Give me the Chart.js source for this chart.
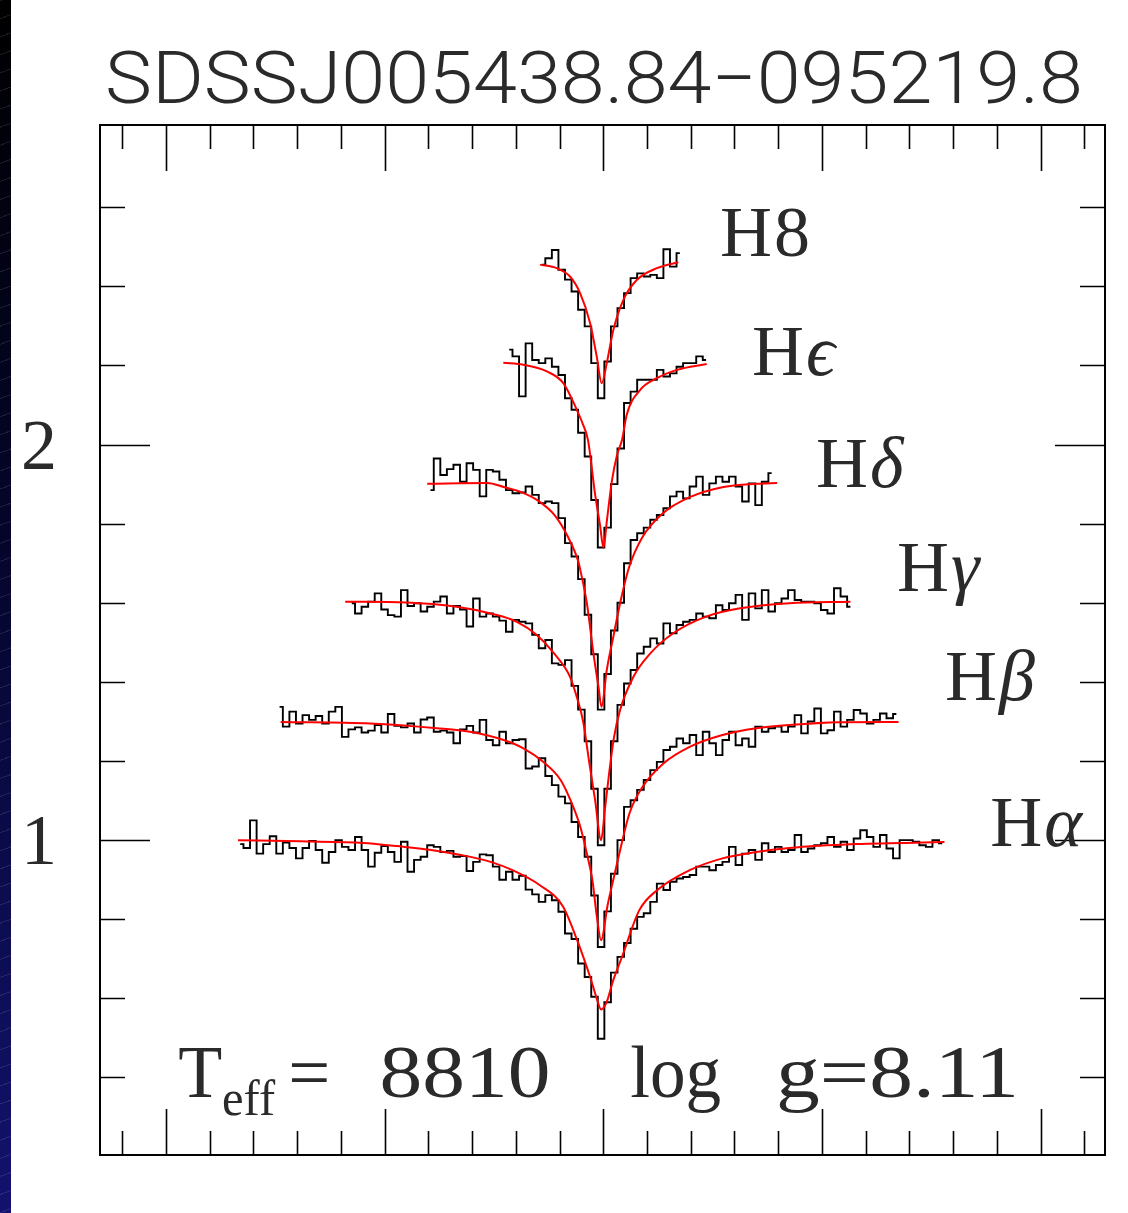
<!DOCTYPE html>
<html>
<head>
<meta charset="utf-8">
<title>SDSSJ005438.84-095219.8 Balmer fit</title>
<script src="https://cdn.jsdelivr.net/npm/chart.js@4.4.1/dist/chart.umd.min.js"></script>
<style>
  html, body { margin: 0; padding: 0; background: #fff; }
  #wrap { position: relative; width: 1128px; height: 1213px; overflow: hidden; background: #fff; }
  #spec { position: absolute; left: 0; top: 0; }
  #edge {
    position: absolute; left: 0; top: 0; width: 11px; height: 1213px;
    background:
      repeating-linear-gradient(160deg, rgba(255,255,255,0.10) 0 1px, transparent 1px 17px),
      linear-gradient(to bottom, #000 0%, #05052c 45%, #12126e 100%);
  }
</style>
</head>
<body>
<div id="wrap">
  <canvas id="spec" width="1128" height="1213"></canvas>
  <div id="edge"></div>
</div>
<script>
// wavelength offset from line centre (A), first bin of each observed spectrum, 3 A bins
const binWidth = 3;
const haStart = -166, hbStart = -148, hgStart = -115, hdStart = -79, heStart = -43, h8Start = -28;

// observed fluxes (normalised, each line shifted up by 0.3)
const haFlux = [
  0.99, 0.98, 1.05, 0.966, 0.99, 1.01, 0.966, 0.994, 0.98, 0.954,
  0.98, 0.998, 0.975, 0.943, 0.97, 1.0, 0.983, 0.975, 1.008, 0.975,
  0.933, 0.968, 0.985, 0.97, 0.945, 0.996, 0.92, 0.95, 0.958, 0.987,
  0.983, 0.97, 0.973, 0.958, 0.96, 0.922, 0.945, 0.964, 0.962, 0.933,
  0.9, 0.92, 0.9, 0.91, 0.875, 0.863, 0.844, 0.861, 0.848, 0.819,
  0.764, 0.75, 0.688, 0.654, 0.604, 0.498,
  0.59, 0.665, 0.705, 0.74,
  0.776, 0.806, 0.815, 0.844, 0.89, 0.874, 0.895, 0.903, 0.907, 0.912,
  0.933, 0.933, 0.924, 0.937, 0.945, 0.983, 0.937, 0.966, 0.975, 0.95,
  0.992, 0.97, 0.983, 0.97, 0.975, 1.013, 0.97, 0.979, 0.987, 0.992,
  1.008, 0.983, 0.996, 0.975, 1.004, 1.025, 1.008, 0.983, 1.013, 0.979,
  0.954, 1.0, 1.0, 0.996, 0.987, 0.983, 1.0, 0.992
];
const hbFlux = [
  1.337, 1.287, 1.325, 1.295, 1.316, 1.304, 1.314, 1.295, 1.325, 1.337,
  1.261, 1.28, 1.285, 1.272, 1.277, 1.291, 1.272, 1.319, 1.289, 1.285,
  1.295, 1.272, 1.305, 1.31, 1.274, 1.277, 1.272, 1.245, 1.28, 1.289,
  1.272, 1.304, 1.253, 1.24, 1.274, 1.245, 1.253, 1.255, 1.181, 1.186,
  1.207, 1.162, 1.139, 1.11, 1.093, 1.046, 1.008, 0.958, 0.86, 0.73,
  0.82, 0.915, 1.0, 1.084, 1.101, 1.127, 1.152, 1.177, 1.198, 1.228,
  1.236, 1.257, 1.245, 1.266, 1.215, 1.274, 1.245, 1.215, 1.253, 1.274,
  1.24, 1.257, 1.236, 1.287, 1.274, 1.283, 1.287, 1.274, 1.287, 1.316,
  1.27, 1.3, 1.333, 1.27, 1.278, 1.325, 1.287, 1.304, 1.329, 1.32,
  1.295, 1.304, 1.32, 1.308, 1.319
];
const hgFlux = [
  1.599, 1.573, 1.59, 1.603, 1.624, 1.583, 1.569, 1.565, 1.632, 1.592,
  1.599, 1.578, 1.59, 1.603, 1.616, 1.573, 1.592, 1.583, 1.54, 1.611,
  1.565, 1.573, 1.565, 1.555, 1.527, 1.557, 1.552, 1.548, 1.519, 1.485,
  1.506, 1.447, 1.443, 1.455, 1.39, 1.33, 1.25, 1.13,
  0.987,
  1.13, 1.25, 1.342, 1.396, 1.43, 1.472, 1.489, 1.51, 1.497, 1.548, 1.523,
  1.544, 1.552, 1.557, 1.573, 1.565, 1.561, 1.594, 1.582, 1.599, 1.62,
  1.557, 1.624, 1.586, 1.632, 1.578, 1.599, 1.611, 1.632, 1.607, 1.603,
  1.603, 1.599, 1.582, 1.573, 1.637, 1.616, 1.59
];
const hdFlux = [
  1.885, 1.965, 1.923, 1.938, 1.949, 1.906, 1.953, 1.936, 1.869, 1.936,
  1.932, 1.911, 1.885, 1.877, 1.879, 1.894, 1.873, 1.852, 1.856, 1.852,
  1.814, 1.751, 1.717, 1.66, 1.57, 1.47,
  1.33,
  1.42, 1.53, 1.6,
  1.70, 1.759, 1.776, 1.79, 1.81, 1.822, 1.839, 1.869, 1.881, 1.864,
  1.894, 1.919, 1.873, 1.902, 1.919, 1.906, 1.919, 1.894, 1.856, 1.902,
  1.847, 1.906, 1.928
];
const heFlux = [
  2.24, 2.223, 2.122, 2.256, 2.214, 2.206, 2.218, 2.197, 2.176, 2.117, 2.088,
  2.03, 1.97, 1.86, 1.74, 1.79, 1.9, 1.99,
  2.105, 2.134, 2.164, 2.164, 2.164, 2.189, 2.172, 2.18, 2.197, 2.206, 2.206, 2.223, 2.214
];
const h8Flux = [
  2.455, 2.471, 2.492, 2.442, 2.417, 2.387, 2.341, 2.299, 2.206, 2.117, 2.21,
  2.299, 2.345, 2.383, 2.421, 2.433, 2.425, 2.429, 2.421, 2.494, 2.45, 2.484
];

// model profiles (red)
const haModelX = [-167, -138.5, -109.5, -94.5, -79.5, -64.5, -51.5, -41.5, -29, -18.5, -12, -6, -3, -1, 1.5, 4.5, 8.5, 16.5, 24.5, 39.5, 54.5, 70, 85, 115.5, 156];
const haModelY = [1.0, 0.997, 0.993, 0.985, 0.976, 0.962, 0.945, 0.924, 0.886, 0.833, 0.748, 0.654, 0.6, 0.572, 0.59, 0.645, 0.704, 0.823, 0.873, 0.924, 0.954, 0.97, 0.98, 0.99, 0.995];
const hbModelX = [-147.5, -106.5, -76, -61, -45.5, -36.5, -27.5, -19.5, -15, -10.5, -7.5, -5, -3, -1, 2, 4, 7, 12, 18, 27.5, 39.5, 54.5, 70, 85, 108, 135];
const hbModelY = [1.299, 1.295, 1.283, 1.274, 1.253, 1.232, 1.198, 1.152, 1.101, 1.034, 0.966, 0.9, 0.81, 0.747, 0.836, 0.886, 0.958, 1.068, 1.135, 1.194, 1.236, 1.266, 1.283, 1.291, 1.298, 1.299];
const hgModelX = [-118, -90, -67, -51.5, -39.5, -30.5, -22.5, -15.2, -12, -9.2, -6.5, -3.7, -1, 0.8, 2.7, 4.9, 7.7, 13.8, 21.5, 32, 47, 62.5, 85, 113];
const hgModelY = [1.603, 1.601, 1.59, 1.573, 1.552, 1.519, 1.472, 1.413, 1.36, 1.3, 1.2, 1.1, 1.0, 1.08, 1.17, 1.26, 1.329, 1.413, 1.472, 1.523, 1.565, 1.586, 1.599, 1.603];
const hdModelX = [-80.5, -53, -45.5, -37.5, -30, -22, -16, -11.5, -10.5, -7.5, -4.5, -2.2, -0.8, 1.6, 4.6, 7.7, 11.7, 17.8, 27, 39.5, 55, 70, 79.5];
const hdModelY = [1.901, 1.903, 1.893, 1.88, 1.859, 1.82, 1.765, 1.706, 1.683, 1.599, 1.472, 1.388, 1.337, 1.43, 1.514, 1.599, 1.688, 1.765, 1.825, 1.867, 1.893, 1.901, 1.903];
const heModelX = [-45.7, -36.5, -25.8, -18.2, -12.1, -9.2, -7, -3.7, -1.5, 0.1, 1.7, 4, 6.3, 8.6, 10.7, 16.8, 24.5, 33.6, 47.3];
const heModelY = [2.207, 2.202, 2.185, 2.155, 2.088, 2.05, 2.012, 1.873, 1.797, 1.739, 1.81, 1.91, 1.974, 2.012, 2.075, 2.138, 2.168, 2.189, 2.204];
const h8ModelX = [-28.9, -21.3, -15.2, -10.6, -6, -3, -0.7, 1.6, 4.6, 9.2, 15.3, 24.5, 34.3];
const h8ModelY = [2.455, 2.446, 2.425, 2.383, 2.307, 2.223, 2.155, 2.206, 2.29, 2.366, 2.416, 2.446, 2.461];

// axes
const xTicks = [-220, -200, -180, -160, -140, -120, -100, -80, -60, -40, -20, 0, 20, 40, 60, 80, 100, 120, 140, 160, 180, 200, 220];
const xMajor = [-200, -100, 0, 100, 200];
const yTicks = [0.4, 0.6, 0.8, 1.0, 1.2, 1.4, 1.6, 1.8, 2.0, 2.2, 2.4, 2.6];
const yLabels = ['1', '2'];

const titleText = 'SDSSJ005438.84\u2212095219.8';
const lineNames = ['H\u03b1', 'H\u03b2', 'H\u03b3', 'H\u03b4', 'H\u03f5', 'H8'];

// where each line label sits, in data units (left edge, baseline)
const labelAt = [
  { x: 176.9, y: 0.985 },
  { x: 156.3, y: 1.354 },
  { x: 134.3, y: 1.63 },
  { x: 97.3, y: 1.893 },
  { x: 68, y: 2.176 },
  { x: 53.4, y: 2.477 }
];

function binned(start, flux) {
  return flux.map((v, i) => ({ x: start + i * binWidth, y: v }));
}
function paired(xs, ys) {
  return xs.map((x, i) => ({ x: x, y: ys[i] }));
}

const spectra = [
  { obs: binned(haStart, haFlux), fit: paired(haModelX, haModelY) },
  { obs: binned(hbStart, hbFlux), fit: paired(hbModelX, hbModelY) },
  { obs: binned(hgStart, hgFlux), fit: paired(hgModelX, hgModelY) },
  { obs: binned(hdStart, hdFlux), fit: paired(hdModelX, hdModelY) },
  { obs: binned(heStart, heFlux), fit: paired(heModelX, heModelY) },
  { obs: binned(h8Start, h8Flux), fit: paired(h8ModelX, h8ModelY) }
];

const datasets = [];
spectra.forEach(s => {
  datasets.push({
    data: s.fit, showLine: true, borderColor: '#ff0000', borderWidth: 2,
    pointRadius: 0, cubicInterpolationMode: 'monotone', order: 0
  });
  datasets.push({
    data: s.obs, showLine: true, borderColor: '#000000', borderWidth: 1.9,
    pointRadius: 0, stepped: 'middle', order: 1
  });
});

const SERIF = '"Liberation Serif", "DejaVu Serif", serif';
const INK = '#2a2a2a';

function fitText(ctx, str, x, y, w) {
  const m = ctx.measureText(str).width;
  ctx.save();
  ctx.translate(x, y);
  ctx.scale(w / m, 1);
  ctx.fillText(str, 0, 0);
  ctx.restore();
}

const framePlugin = {
  id: 'frame',
  afterDatasetsDraw(chart) {
    const ctx = chart.ctx;
    const a = chart.chartArea;
    const xs = chart.scales.x, ys = chart.scales.y;
    ctx.save();
    ctx.strokeStyle = '#000';
    ctx.lineWidth = 2;
    ctx.strokeRect(a.left, a.top, a.right - a.left, a.bottom - a.top);

    ctx.lineWidth = 1.6;
    ctx.beginPath();
    xTicks.forEach(v => {
      const px = Math.round(xs.getPixelForValue(v)) + 0.5;
      const len = xMajor.includes(v) ? 46 : 24;
      ctx.moveTo(px, a.top); ctx.lineTo(px, a.top + len);
      ctx.moveTo(px, a.bottom); ctx.lineTo(px, a.bottom - len);
    });
    yTicks.forEach(v => {
      const py = Math.round(ys.getPixelForValue(v)) + 0.5;
      const len = Math.abs(v - Math.round(v)) < 1e-6 ? 50 : 25;
      ctx.moveTo(a.left, py); ctx.lineTo(a.left + len, py);
      ctx.moveTo(a.right, py); ctx.lineTo(a.right - len, py);
    });
    ctx.stroke();

    ctx.fillStyle = INK;
    ctx.textBaseline = 'alphabetic';
    ctx.textAlign = 'left';

    // y tick labels
    ctx.font = '72px ' + SERIF;
    yLabels.forEach(t => {
      const py = ys.getPixelForValue(Number(t));
      ctx.textAlign = 'center';
      ctx.fillText(t, a.left - 61, py + 24);
    });
    ctx.textAlign = 'left';

    // title
    ctx.font = '300 72px Roboto, "Liberation Sans", sans-serif';
    fitText(ctx, titleText, a.left + 5, a.top - 22, 978);

    // line labels
    lineNames.forEach((name, i) => {
      const px = xs.getPixelForValue(labelAt[i].x);
      const py = ys.getPixelForValue(labelAt[i].y);
      ctx.font = '72px ' + SERIF;
      ctx.fillText('H', px, py);
      const w = ctx.measureText('H').width;
      const rest = name.slice(1);
      ctx.font = (/[0-9]/.test(rest) ? '' : 'italic ') + '72px ' + SERIF;
      ctx.fillText(rest, px + w + 2, py);
    });

    // fit parameters at the foot of the panel
    const by = ys.getPixelForValue(0.35);
    const bx = v => xs.getPixelForValue(v);
    ctx.font = '74px ' + SERIF;
    fitText(ctx, 'T', bx(-194.3), by, 44);
    ctx.font = '50px ' + SERIF;
    fitText(ctx, 'eff', bx(-174.3), by + 18, 53);
    ctx.font = '74px ' + SERIF;
    fitText(ctx, '=', bx(-144), by, 42);
    fitText(ctx, '8810', bx(-102.3), by, 171);
    fitText(ctx, 'log', bx(12.3), by, 91);
    fitText(ctx, 'g=8.11', bx(79), by, 243);
    ctx.restore();
  }
};

new Chart(document.getElementById('spec'), {
  type: 'scatter',
  data: { datasets: datasets },
  options: {
    responsive: false,
    animation: false,
    events: [],
    layout: { padding: { left: 100, top: 125, right: 23, bottom: 58 } },
    plugins: { legend: { display: false }, tooltip: { enabled: false }, title: { display: false } },
    scales: {
      x: { type: 'linear', min: -230.1, max: 229.4, display: false },
      y: { type: 'linear', min: 0.204, max: 2.808, display: false }
    }
  },
  plugins: [framePlugin]
});
</script>
</body>
</html>
